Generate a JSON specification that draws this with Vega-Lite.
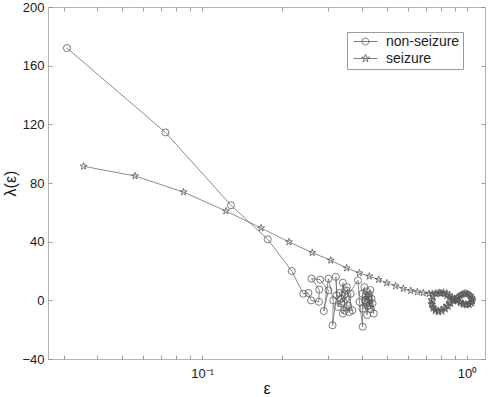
{
  "$schema": "https://vega.github.io/schema/vega-lite/v6.json",
  "autosize": "none",
  "width": 437,
  "height": 352,
  "padding": {"left": 48, "top": 7, "right": 5, "bottom": 38},
  "config": {
    "font": "Liberation Sans",
    "view": {"stroke": "#b4b4b4", "strokeWidth": 1},
    "axis": {"grid": false, "domain": false, "tickColor": "#888888", "tickWidth": 0.8, "labelColor": "#1a1a1a", "labelFont": "Liberation Sans", "labelFontSize": 13, "titleFont": "Liberation Sans", "titleFontWeight": "normal", "titleColor": "#1a1a1a", "titleFontSize": 16}
  },
  "data": {"values": [
    {"series": "non-seizure", "i": 1, "eps": 0.0309, "lam": 172},
    {"series": "non-seizure", "i": 2, "eps": 0.0727, "lam": 114.5},
    {"series": "non-seizure", "i": 3, "eps": 0.1286, "lam": 64.8},
    {"series": "non-seizure", "i": 4, "eps": 0.177, "lam": 41.6},
    {"series": "non-seizure", "i": 5, "eps": 0.218, "lam": 20},
    {"series": "non-seizure", "i": 6, "eps": 0.241, "lam": 4.5},
    {"series": "non-seizure", "i": 7, "eps": 0.252, "lam": 5.0},
    {"series": "non-seizure", "i": 8, "eps": 0.258, "lam": 0},
    {"series": "non-seizure", "i": 9, "eps": 0.276, "lam": -1},
    {"series": "non-seizure", "i": 10, "eps": 0.277, "lam": 7.3},
    {"series": "non-seizure", "i": 11, "eps": 0.259, "lam": 14.8},
    {"series": "non-seizure", "i": 12, "eps": 0.279, "lam": 14.1},
    {"series": "non-seizure", "i": 13, "eps": 0.300, "lam": 6.8},
    {"series": "non-seizure", "i": 14, "eps": 0.288, "lam": -7.3},
    {"series": "non-seizure", "i": 15, "eps": 0.300, "lam": 14.8},
    {"series": "non-seizure", "i": 16, "eps": 0.313, "lam": 0},
    {"series": "non-seizure", "i": 17, "eps": 0.311, "lam": -17},
    {"series": "non-seizure", "i": 18, "eps": 0.322, "lam": 3.4},
    {"series": "non-seizure", "i": 19, "eps": 0.320, "lam": 16},
    {"series": "non-seizure", "i": 20, "eps": 0.326, "lam": -4.5},
    {"series": "non-seizure", "i": 21, "eps": 0.335, "lam": 1.1},
    {"series": "non-seizure", "i": 22, "eps": 0.340, "lam": 12},
    {"series": "non-seizure", "i": 23, "eps": 0.345, "lam": 4},
    {"series": "non-seizure", "i": 24, "eps": 0.336, "lam": -2},
    {"series": "non-seizure", "i": 25, "eps": 0.350, "lam": 6.8},
    {"series": "non-seizure", "i": 26, "eps": 0.340, "lam": -9},
    {"series": "non-seizure", "i": 27, "eps": 0.355, "lam": -3.4},
    {"series": "non-seizure", "i": 28, "eps": 0.360, "lam": -8},
    {"series": "non-seizure", "i": 29, "eps": 0.364, "lam": 4.5},
    {"series": "non-seizure", "i": 30, "eps": 0.345, "lam": -7},
    {"series": "non-seizure", "i": 31, "eps": 0.369, "lam": -6.8},
    {"series": "non-seizure", "i": 32, "eps": 0.352, "lam": 9},
    {"series": "non-seizure", "i": 33, "eps": 0.330, "lam": 5},
    {"series": "non-seizure", "i": 34, "eps": 0.342, "lam": -1},
    {"series": "non-seizure", "i": 35, "eps": 0.388, "lam": 13.6},
    {"series": "non-seizure", "i": 36, "eps": 0.393, "lam": -1.1},
    {"series": "non-seizure", "i": 37, "eps": 0.404, "lam": -18},
    {"series": "non-seizure", "i": 38, "eps": 0.403, "lam": 4.5},
    {"series": "non-seizure", "i": 39, "eps": 0.410, "lam": 9},
    {"series": "non-seizure", "i": 40, "eps": 0.415, "lam": -1.1},
    {"series": "non-seizure", "i": 41, "eps": 0.420, "lam": -10},
    {"series": "non-seizure", "i": 42, "eps": 0.425, "lam": 2.3},
    {"series": "non-seizure", "i": 43, "eps": 0.430, "lam": -3.4},
    {"series": "non-seizure", "i": 44, "eps": 0.436, "lam": 1.1},
    {"series": "non-seizure", "i": 45, "eps": 0.445, "lam": -9},
    {"series": "non-seizure", "i": 46, "eps": 0.418, "lam": 6},
    {"series": "non-seizure", "i": 47, "eps": 0.403, "lam": -5.7},
    {"series": "non-seizure", "i": 48, "eps": 0.422, "lam": -4},
    {"series": "non-seizure", "i": 49, "eps": 0.428, "lam": 4},
    {"series": "non-seizure", "i": 50, "eps": 0.412, "lam": 0},
    {"series": "non-seizure", "i": 51, "eps": 0.432, "lam": 7},
    {"series": "non-seizure", "i": 52, "eps": 0.440, "lam": -2},
    {"series": "non-seizure", "i": 53, "eps": 0.423, "lam": -1.5},
    {"series": "non-seizure", "i": 54, "eps": 0.416, "lam": 3},
    {"series": "non-seizure", "i": 55, "eps": 0.434, "lam": -6},
    {"series": "non-seizure", "i": 56, "eps": 0.427, "lam": 0.5},
    {"series": "seizure", "i": 1, "eps": 0.0357, "lam": 91.4},
    {"series": "seizure", "i": 2, "eps": 0.0558, "lam": 84.8},
    {"series": "seizure", "i": 3, "eps": 0.0851, "lam": 73.8},
    {"series": "seizure", "i": 4, "eps": 0.123, "lam": 60.9},
    {"series": "seizure", "i": 5, "eps": 0.167, "lam": 49.3},
    {"series": "seizure", "i": 6, "eps": 0.213, "lam": 39.8},
    {"series": "seizure", "i": 7, "eps": 0.2606, "lam": 32.5},
    {"series": "seizure", "i": 8, "eps": 0.306, "lam": 27.3},
    {"series": "seizure", "i": 9, "eps": 0.3515, "lam": 22},
    {"series": "seizure", "i": 10, "eps": 0.3925, "lam": 18.6},
    {"series": "seizure", "i": 11, "eps": 0.428, "lam": 16.4},
    {"series": "seizure", "i": 12, "eps": 0.464, "lam": 14.1},
    {"series": "seizure", "i": 13, "eps": 0.498, "lam": 11.8},
    {"series": "seizure", "i": 14, "eps": 0.538, "lam": 9.8},
    {"series": "seizure", "i": 15, "eps": 0.575, "lam": 8},
    {"series": "seizure", "i": 16, "eps": 0.613, "lam": 6.6},
    {"series": "seizure", "i": 17, "eps": 0.65, "lam": 5.7},
    {"series": "seizure", "i": 18, "eps": 0.684, "lam": 5},
    {"series": "seizure", "i": 19, "eps": 0.719, "lam": 4.5},
    {"series": "seizure", "i": 20, "eps": 0.74, "lam": 4.6},
    {"series": "seizure", "i": 21, "eps": 0.76, "lam": 4.8},
    {"series": "seizure", "i": 22, "eps": 0.78, "lam": 5.0},
    {"series": "seizure", "i": 23, "eps": 0.80, "lam": 4.8},
    {"series": "seizure", "i": 24, "eps": 0.82, "lam": 4.2},
    {"series": "seizure", "i": 25, "eps": 0.84, "lam": 3.0},
    {"series": "seizure", "i": 26, "eps": 0.86, "lam": 1.8},
    {"series": "seizure", "i": 27, "eps": 0.88, "lam": 0.8},
    {"series": "seizure", "i": 28, "eps": 0.90, "lam": 0.5},
    {"series": "seizure", "i": 29, "eps": 0.92, "lam": 1.5},
    {"series": "seizure", "i": 30, "eps": 0.94, "lam": 3.0},
    {"series": "seizure", "i": 31, "eps": 0.96, "lam": 4.2},
    {"series": "seizure", "i": 32, "eps": 0.985, "lam": 4.8},
    {"series": "seizure", "i": 33, "eps": 1.01, "lam": 4.2},
    {"series": "seizure", "i": 34, "eps": 1.03, "lam": 3.0},
    {"series": "seizure", "i": 35, "eps": 1.045, "lam": 1.2},
    {"series": "seizure", "i": 36, "eps": 1.05, "lam": -0.5},
    {"series": "seizure", "i": 37, "eps": 1.04, "lam": -2.0},
    {"series": "seizure", "i": 38, "eps": 1.02, "lam": -3.0},
    {"series": "seizure", "i": 39, "eps": 0.995, "lam": -3.2},
    {"series": "seizure", "i": 40, "eps": 0.97, "lam": -2.8},
    {"series": "seizure", "i": 41, "eps": 0.945, "lam": -1.8},
    {"series": "seizure", "i": 42, "eps": 0.92, "lam": -0.5},
    {"series": "seizure", "i": 43, "eps": 0.90, "lam": 0.5},
    {"series": "seizure", "i": 44, "eps": 0.88, "lam": 0.2},
    {"series": "seizure", "i": 45, "eps": 0.86, "lam": -1.5},
    {"series": "seizure", "i": 46, "eps": 0.84, "lam": -3.5},
    {"series": "seizure", "i": 47, "eps": 0.82, "lam": -5.2},
    {"series": "seizure", "i": 48, "eps": 0.80, "lam": -6.5},
    {"series": "seizure", "i": 49, "eps": 0.78, "lam": -7.0},
    {"series": "seizure", "i": 50, "eps": 0.76, "lam": -6.2},
    {"series": "seizure", "i": 51, "eps": 0.745, "lam": -4.5},
    {"series": "seizure", "i": 52, "eps": 0.735, "lam": -2.2},
    {"series": "seizure", "i": 53, "eps": 0.735, "lam": 0.5},
    {"series": "seizure", "i": 54, "eps": 0.745, "lam": 2.8},
    {"series": "seizure", "i": 55, "eps": 0.765, "lam": 4.2},
    {"series": "seizure", "i": 56, "eps": 0.79, "lam": 5.2},
    {"series": "seizure", "i": 57, "eps": 0.815, "lam": 5.4},
    {"series": "seizure", "i": 58, "eps": 0.84, "lam": 4.8},
    {"series": "seizure", "i": 59, "eps": 0.86, "lam": 3.5},
    {"series": "seizure", "i": 60, "eps": 0.88, "lam": 2.0},
    {"series": "seizure", "i": 61, "eps": 0.90, "lam": 1.2},
    {"series": "seizure", "i": 62, "eps": 0.925, "lam": 2.2},
    {"series": "seizure", "i": 63, "eps": 0.95, "lam": 3.6},
    {"series": "seizure", "i": 64, "eps": 0.975, "lam": 4.5},
    {"series": "seizure", "i": 65, "eps": 1.0, "lam": 4.6},
    {"series": "seizure", "i": 66, "eps": 1.025, "lam": 3.6},
    {"series": "seizure", "i": 67, "eps": 1.04, "lam": 2.0},
    {"series": "seizure", "i": 68, "eps": 1.045, "lam": 0.3},
    {"series": "seizure", "i": 69, "eps": 1.035, "lam": -1.5},
    {"series": "seizure", "i": 70, "eps": 1.015, "lam": -2.5},
    {"series": "seizure", "i": 71, "eps": 0.99, "lam": -2.6},
    {"series": "seizure", "i": 72, "eps": 0.965, "lam": -2.0},
    {"series": "seizure", "i": 73, "eps": 0.94, "lam": -1.0},
    {"series": "seizure", "i": 74, "eps": 0.915, "lam": 0},
    {"series": "seizure", "i": 75, "eps": 0.89, "lam": -0.5},
    {"series": "seizure", "i": 76, "eps": 0.87, "lam": -2.2},
    {"series": "seizure", "i": 77, "eps": 0.85, "lam": -4.2},
    {"series": "seizure", "i": 78, "eps": 0.83, "lam": -6.0},
    {"series": "seizure", "i": 79, "eps": 0.805, "lam": -7.5},
    {"series": "seizure", "i": 80, "eps": 0.78, "lam": -8},
    {"series": "seizure", "i": 81, "eps": 0.76, "lam": -7.2},
    {"series": "seizure", "i": 82, "eps": 0.745, "lam": -5.5},
    {"series": "seizure", "i": 83, "eps": 0.738, "lam": -3},
    {"series": "seizure", "i": 84, "eps": 0.74, "lam": -0.5}
  ]},
  "resolve": {"axis": {"x": "independent", "y": "independent"}},
  "layer": [
    {
      "mark": {"type": "line", "color": "#6e6e6e", "strokeWidth": 0.8},
      "encoding": {
        "x": {"field": "eps", "type": "quantitative",
              "scale": {"type": "log", "domain": [0.0262, 1.17], "nice": false},
              "axis": {"orient": "bottom", "title": "ε", "titlePadding": 0,
                       "values": [0.03,0.04,0.05,0.06,0.07,0.08,0.09,0.1,0.2,0.3,0.4,0.5,0.6,0.7,0.8,0.9,1],
                       "labelExpr": "datum.value == 0.1 ? '10⁻¹' : (datum.value == 1 ? '10⁰' : '')",
                       "tickSize": -4, "labelPadding": 12, "labelOverlap": false, "labelFlush": false, "labelBound": false}},
        "y": {"field": "lam", "type": "quantitative",
              "scale": {"domain": [-40, 200], "nice": false, "zero": false},
              "axis": {"orient": "left", "title": "λ(ε)", "titlePadding": 3,
                       "values": [-40, 0, 40, 80, 120, 160, 200],
                       "tickSize": -4, "labelPadding": 8}},
        "detail": {"field": "series"},
        "order": {"field": "i", "type": "quantitative"}
      }
    },
    {
      "transform": [{"filter": "datum.series == 'non-seizure'"}],
      "mark": {"type": "point", "shape": "circle", "filled": false, "color": "#5a5a5a", "strokeWidth": 0.8, "size": 50, "opacity": 1},
      "encoding": {
        "x": {"field": "eps", "type": "quantitative", "axis": null},
        "y": {"field": "lam", "type": "quantitative", "axis": null}
      }
    },
    {
      "transform": [{"filter": "datum.series == 'seizure'"}],
      "mark": {"type": "point", "shape": "M0,-1L0.225,-0.309L0.951,-0.309L0.363,0.118L0.588,0.809L0,0.382L-0.588,0.809L-0.363,0.118L-0.951,-0.309L-0.225,-0.309Z", "filled": false, "color": "#5a5a5a", "strokeWidth": 0.8, "size": 55, "opacity": 1},
      "encoding": {
        "x": {"field": "eps", "type": "quantitative",
              "axis": {"orient": "top", "title": null, "labels": false, "tickSize": -4,
                       "values": [0.03,0.04,0.05,0.06,0.07,0.08,0.09,0.1,0.2,0.3,0.4,0.5,0.6,0.7,0.8,0.9,1]}},
        "y": {"field": "lam", "type": "quantitative",
              "axis": {"orient": "right", "title": null, "labels": false, "tickSize": -4,
                       "values": [-40, 0, 40, 80, 120, 160, 200]}}
      }
    },
    {
      "mark": {"type": "point", "filled": false, "color": "#5a5a5a", "strokeWidth": 0.8, "opacity": 0},
      "encoding": {
        "x": {"field": "eps", "type": "quantitative", "axis": null},
        "y": {"field": "lam", "type": "quantitative", "axis": null},
        "shape": {"field": "series", "type": "nominal",
                  "scale": {"domain": ["non-seizure", "seizure"],
                            "range": ["M-1,0L1,0M0.29,0A0.29,0.29 0 1,1 -0.29,0A0.29,0.29 0 1,1 0.29,0",
                                      "M-1,0L1,0M0,-0.35L0.079,-0.108L0.333,-0.108L0.127,0.041L0.206,0.283L0,0.134L-0.206,0.283L-0.127,0.041L-0.333,-0.108L-0.079,-0.108Z"]},
                  "legend": {"title": null, "orient": "none", "legendX": 299, "legendY": 25,
                             "symbolSize": 576, "symbolOpacity": 1, "symbolStrokeColor": "#5a5a5a", "symbolStrokeWidth": 0.8,
                             "symbolFillColor": "transparent",
                             "symbolOffset": 3, "labelOffset": 8, "labelFontSize": 14, "labelColor": "#1a1a1a", "labelFont": "Liberation Sans",
                             "clipHeight": 13, "rowPadding": 2, "padding": 3,
                             "strokeColor": "#9a9a9a", "fillColor": "white"}}
      }
    }
  ]
}
